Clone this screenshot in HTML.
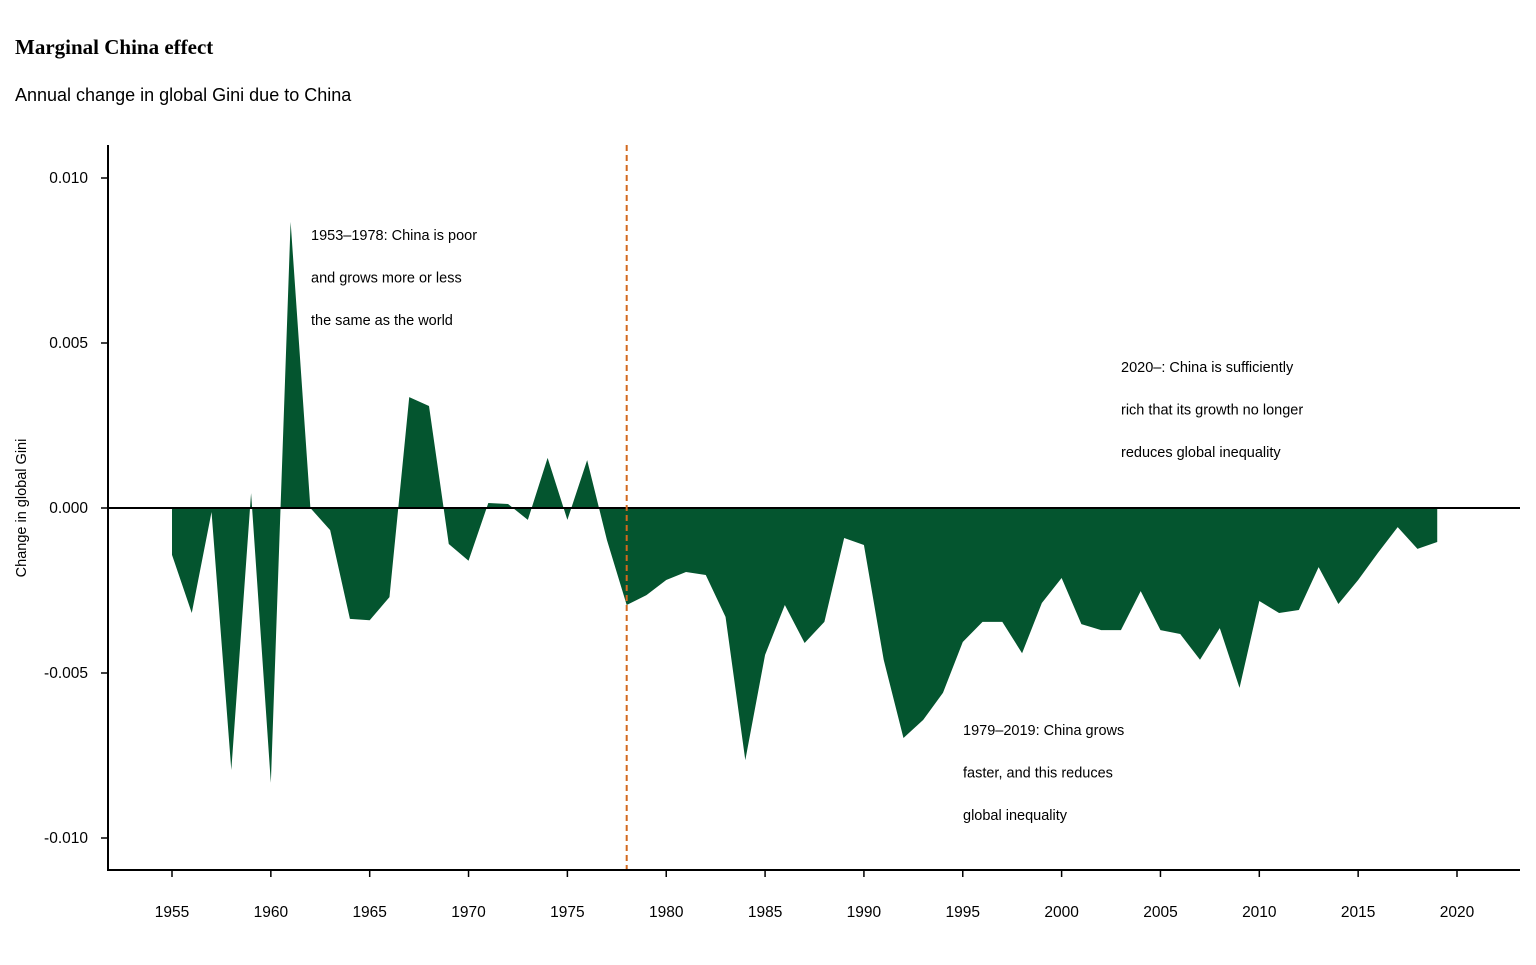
<!DOCTYPE html>
<html><head><meta charset="utf-8"><style>
body{margin:0;background:#fff;width:1536px;height:960px;overflow:hidden;font-family:"Liberation Sans",sans-serif}
</style></head><body>
<svg width="1536" height="960" xmlns="http://www.w3.org/2000/svg">
<text x="15" y="54" font-family="Liberation Serif" font-weight="bold" font-size="21" fill="#000">Marginal China effect</text>
<text x="15" y="101" font-size="18" fill="#000">Annual change in global Gini due to China</text>
<g id="plot"></g>
</svg>
<script>
const years=[1955,1956,1957,1958,1959,1960,1961,1962,1963,1964,1965,1966,1967,1968,1969,1970,1971,1972,1973,1974,1975,1976,1977,1978,1979,1980,1981,1982,1983,1984,1985,1986,1987,1988,1989,1990,1991,1992,1993,1994,1995,1996,1997,1998,1999,2000,2001,2002,2003,2004,2005,2006,2007,2008,2009,2010,2011,2012,2013,2014,2015,2016,2017,2018,2019];
const giniChange=[-0.00142,-0.00318,-0.00012,-0.00794,0.00045,-0.00833,0.00867,0,-0.00067,-0.00336,-0.0034,-0.0027,0.00336,0.00309,-0.00109,-0.0016,0.00015,0.00012,-0.00036,0.00152,-0.00036,0.00145,-0.00097,-0.00294,-0.00264,-0.00218,-0.00194,-0.00203,-0.0033,-0.00764,-0.00445,-0.00294,-0.00409,-0.00345,-0.00091,-0.00112,-0.0046,-0.00697,-0.00642,-0.0056,-0.00406,-0.00345,-0.00345,-0.0044,-0.00288,-0.00212,-0.00352,-0.0037,-0.0037,-0.00252,-0.0037,-0.00382,-0.0046,-0.00364,-0.00545,-0.00282,-0.00318,-0.00309,-0.00179,-0.00291,-0.00218,-0.00136,-0.00058,-0.00124,-0.00103];
const yTicks=[0.010,0.005,0.000,-0.005,-0.010];
const yTickLabels=["0.010","0.005","0.000","-0.005","-0.010"];
const xTicks=[1955,1960,1965,1970,1975,1980,1985,1990,1995,2000,2005,2010,2015,2020];
const markerYear=1978;
const NS="http://www.w3.org/2000/svg";
const g=document.getElementById('plot');
const X=y=>172+(y-1955)*(1457-172)/65;
const Y=v=>508-v*33000;
function mk(t,a){const e=document.createElementNS(NS,t);for(const k in a)e.setAttribute(k,a[k]);g.appendChild(e);return e;}
let d=`M${X(years[0])},${Y(0)}`;
years.forEach((yr,i)=>{d+=` L${X(yr)},${Y(giniChange[i])}`;});
d+=` L${X(years[years.length-1])},${Y(0)} Z`;
const area=mk('path',{d:d,fill:'#04552f'});


const zl=mk('line',{x1:108,x2:1520,y1:Y(0),y2:Y(0),stroke:'#000','stroke-width':2});


const ml=mk('line',{x1:X(markerYear),x2:X(markerYear),y1:145,y2:870,stroke:'#d2691e','stroke-width':2,'stroke-dasharray':'6,4'});


const ya=mk('line',{x1:108,x2:108,y1:145,y2:871,stroke:'#000','stroke-width':2});


const xa=mk('line',{x1:107,x2:1520,y1:870,y2:870,stroke:'#000','stroke-width':2});


yTicks.forEach((v,i)=>{
 mk('line',{x1:101,x2:108,y1:Y(v),y2:Y(v),stroke:'#000','stroke-width':1.5});
 const t=mk('text',{x:88,y:Y(v)+5,'text-anchor':'end','font-size':15.5,fill:'#000'});t.textContent=yTickLabels[i];
 
 
});
xTicks.forEach(v=>{
 mk('line',{x1:X(v),x2:X(v),y1:870,y2:877,stroke:'#000','stroke-width':1.5});
 const t=mk('text',{x:X(v),y:917,'text-anchor':'middle','font-size':15.5,fill:'#000'});t.textContent=v;
 
 
});
const yt=mk('text',{x:0,y:0,transform:'translate(26,508) rotate(-90)','text-anchor':'middle','font-size':14.5,fill:'#000'});
yt.textContent='Change in global Gini';


function note(x,y,lines,name){lines.forEach((l,i)=>{const t=mk('text',{x:x,y:y+i*42.5,'font-size':14.5,fill:'#000'});t.textContent=l;
 
 });}
note(311,240,['1953–1978: China is poor','and grows more or less','the same as the world'],'annotation-1953-1978');
note(1121,372,['2020–: China is sufficiently','rich that its growth no longer','reduces global inequality'],'annotation-2020');
note(963,735,['1979–2019: China grows','faster, and this reduces','global inequality'],'annotation-1979-2019');
</script>
</body></html>
